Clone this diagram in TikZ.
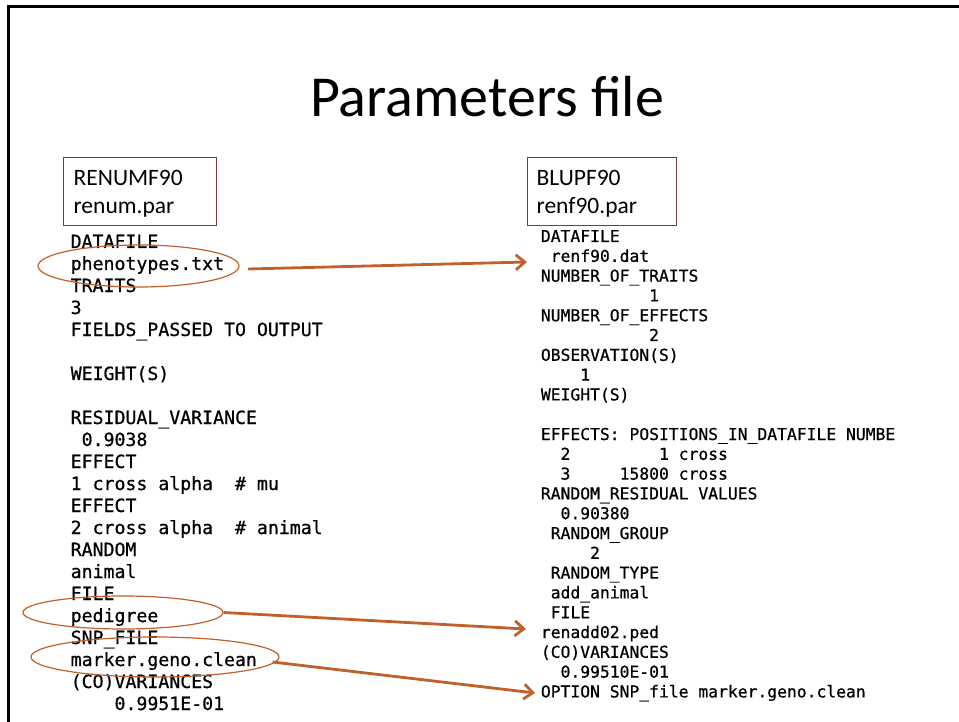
\documentclass[tikz,border=0pt]{standalone}
\usepackage{fontspec}
\setmainfont{Carlito}
\newfontfamily\codefont[FakeBold=0.7]{DejaVu Sans Mono}
\usepackage{tikz}
\usetikzlibrary{arrows.meta,shapes.geometric}
\definecolor{linkbrown}{HTML}{C0602A}
\definecolor{boxred}{HTML}{7A3B3B}
\tikzset{
  lcode/.style={font=\codefont\fontsize{18.2}{20}\selectfont,anchor=base west,inner sep=0pt},
  rcode/.style={font=\codefont\fontsize{16.35}{18}\selectfont,anchor=base west,inner sep=0pt},
  progbox/.style={draw=boxred,line width=1.2pt,anchor=north west,align=left,font=\fontsize{23.5}{28}\selectfont,text height=18pt,text depth=30pt,inner ysep=10pt},
  ring/.style={draw=linkbrown,ellipse,line width=1.2pt,inner sep=0pt},
  link/.style={draw=linkbrown,line width=2.8pt,-{Straight Barb[length=9pt,width=15pt]}}
}

\begin{document}
\begin{tikzpicture}[x=1pt,y=-1pt]
\useasboundingbox (0,0) rectangle (959,722);
\draw[line width=2.7pt] (8.7,722) -- (8.7,6.3) -- (959,6.3);
\node[anchor=base,font=\fontsize{58}{60}\selectfont] (title) at (487,117) {Parameters file};
\node[progbox,inner xsep=10pt,text width=133pt] (renum) at (63,157) {RENUMF90\\renum.par};
\node[progbox,inner xsep=9pt,text width=131pt] (blup) at (527,157) {BLUPF90\\renf90.par};
% renum.par
\node[lcode] (l0) at (70.5,248) {DATAFILE};
\node[lcode] (phen) at (70.5,270) {phenotypes.txt};
\node[lcode] (l2) at (70.5,292) {TRAITS};
\node[lcode] (l3) at (70.5,314) {3};
\node[lcode] (l4) at (70.5,336) {FIELDS\_PASSED TO OUTPUT};
\node[lcode] (l6) at (70.5,380) {WEIGHT(S)};
\node[lcode] (l8) at (70.5,424) {RESIDUAL\_VARIANCE};
\node[lcode] (l9) at (70.5,446) {~0.9038};
\node[lcode] (l10) at (70.5,468) {EFFECT};
\node[lcode] (l11) at (70.5,490) {1 cross alpha~~\# mu};
\node[lcode] (l12) at (70.5,512) {EFFECT};
\node[lcode] (l13) at (70.5,534) {2 cross alpha~~\# animal};
\node[lcode] (l14) at (70.5,556) {RANDOM};
\node[lcode] (l15) at (70.5,578) {animal};
\node[lcode] (l16) at (70.5,600) {FILE};
\node[lcode] (ped) at (70.5,622) {pedigree};
\node[lcode] (l18) at (70.5,644) {SNP\_FILE};
\node[lcode] (snp) at (70.5,666) {marker.geno.clean};
\node[lcode] (l20) at (70.5,688) {(CO)VARIANCES};
\node[lcode] (l21) at (70.5,710) {~~~~0.9951E-01};
% renf90.par
\node[rcode] (b0) at (540.7,242) {DATAFILE};
\node[rcode] (renf) at (540.7,261.8) {~renf90.dat};
\node[rcode] (b2) at (540.7,281.6) {NUMBER\_OF\_TRAITS};
\node[rcode] (b3) at (540.7,301.4) {~~~~~~~~~~~1};
\node[rcode] (b4) at (540.7,321.2) {NUMBER\_OF\_EFFECTS};
\node[rcode] (b5) at (540.7,341) {~~~~~~~~~~~2};
\node[rcode] (b6) at (540.7,360.8) {OBSERVATION(S)};
\node[rcode] (b7) at (540.7,380.6) {~~~~1};
\node[rcode] (b8) at (540.7,400.4) {WEIGHT(S)};
\node[rcode] (b10) at (540.7,440) {EFFECTS: POSITIONS\_IN\_DATAFILE NUMBE};
\node[rcode] (b11) at (540.7,459.8) {~~2~~~~~~~~~1 cross};
\node[rcode] (b12) at (540.7,479.6) {~~3~~~~~15800 cross};
\node[rcode] (b13) at (540.7,499.4) {RANDOM\_RESIDUAL VALUES};
\node[rcode] (b14) at (540.7,519.2) {~~0.90380};
\node[rcode] (b15) at (540.7,539) {~RANDOM\_GROUP};
\node[rcode] (b16) at (540.7,558.8) {~~~~~2};
\node[rcode] (b17) at (540.7,578.6) {~RANDOM\_TYPE};
\node[rcode] (b18) at (540.7,598.4) {~add\_animal};
\node[rcode] (b19) at (540.7,618.2) {~FILE};
\node[rcode] (renadd) at (540.7,638) {renadd02.ped};
\node[rcode] (b21) at (540.7,657.8) {(CO)VARIANCES};
\node[rcode] (b22) at (540.7,677.6) {~~0.99510E-01};
\node[rcode] (opt) at (540.7,697.4) {OPTION SNP\_file marker.geno.clean};
% rings and links
\node[ring,minimum width=201pt,minimum height=42pt] (phenring) at (138.5,266) {};
\node[ring,minimum width=200pt,minimum height=33pt] (pedring) at (123,612.5) {};
\node[ring,minimum width=248pt,minimum height=40pt] (snpring) at (155,657) {};
\draw[link] ([xshift=8.5pt,yshift=-3pt]phenring.east) -- ([xshift=-13.7pt,yshift=-0.2pt]renf.base west);
\draw[link] (pedring.east) -- ([xshift=-14.7pt,yshift=9pt]renadd.base west);
\draw[link] ([xshift=-7pt,yshift=-5pt]snpring.east) -- ([xshift=-5.7pt,yshift=4.4pt]opt.base west);
\end{tikzpicture}
\end{document}
